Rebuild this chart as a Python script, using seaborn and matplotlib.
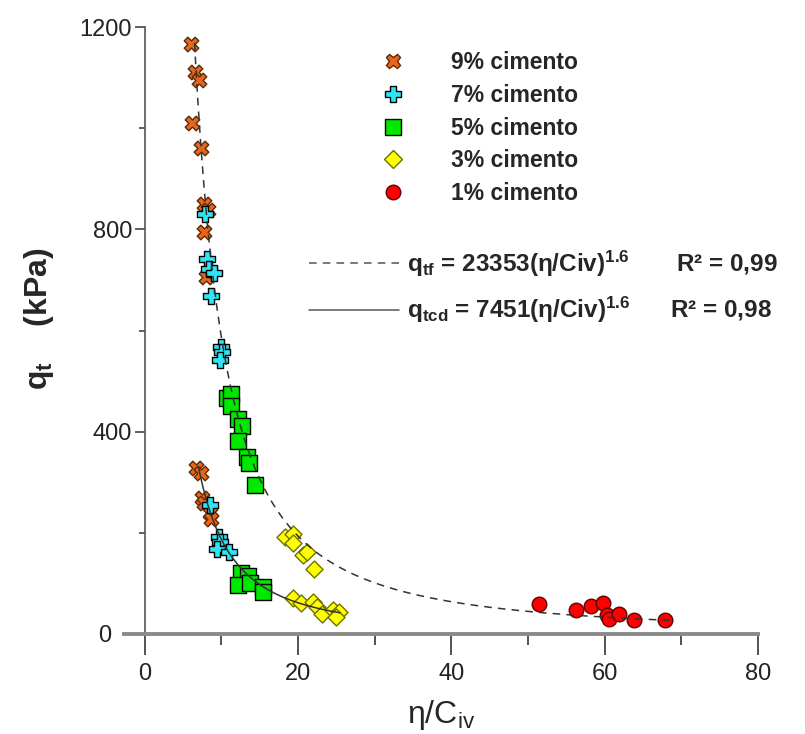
import numpy as np
import pandas as pd
import seaborn as sns
import matplotlib.pyplot as plt
from matplotlib.lines import Line2D

# eta/Civ and qt (kPa), one pair of arrays per cement content
x_9 = [6.1, 6.5, 7.1, 6.2, 7.4, 7.7, 8.2, 7.7, 8.05, 6.75, 7.3, 7.5, 7.8, 8.5, 8.6]
y_9 = [1166, 1112, 1095, 1011, 960, 851, 838, 795, 706, 328, 319, 268, 258, 239, 227]
x_7 = [7.9, 8.1, 8.4, 9.1, 8.7, 10.0, 10.1, 9.8, 8.5, 9.7, 9.8, 9.4, 11.0]
y_7 = [830, 741, 721, 713, 669, 567, 558, 542, 255, 192, 182, 169, 163]
x_5 = [10.7, 11.2, 11.2, 12.2, 12.75, 12.2, 13.4, 13.6, 14.35, 12.5, 13.5, 12.2, 13.8, 15.4, 15.4]
y_5 = [466, 474, 451, 426, 411, 382, 349, 339, 295, 120, 115, 96, 100, 93, 83]
x_3 = [18.3, 19.4, 19.4, 20.6, 21.2, 22.1, 19.3, 20.45, 21.9, 22.5, 23.1, 24.6, 25.35, 24.9]
y_3 = [192, 198, 180, 156, 163, 128, 71, 61, 64, 53, 40, 47, 44, 34]
x_1 = [51.4, 56.3, 58.2, 59.8, 60.3, 60.6, 61.85, 63.8, 67.85]
y_1 = [59, 47, 56, 62, 37, 29, 40, 28, 28]

groups = ['9% cimento', '7% cimento', '5% cimento', '3% cimento', '1% cimento']
xs = [x_9, x_7, x_5, x_3, x_1]
ys = [y_9, y_7, y_5, y_3, y_1]
colors = ['#e8661a', '#30e4f4', '#00e800', '#ffff00', '#ff0000']
edges = ['#5a2a08', 'black', 'black', '#707000', '#600000']
markers = ['X', 'P', 's', 'D', 'o']
msizes = [110, 130, 120, 75, 110]

x_ticks = [0, 20, 40, 60, 80]
y_ticks = [0, 400, 800, 1200]
y_ticklabels = ['0   ', '400', '800', '1200']  # the 0 sits left of the axis line

# power-law fits printed on the chart: q = a * (eta/Civ)^b
fit_a = [23353, 7451]
fit_b = [-1.6, -1.6]
fit_xmin = [6.5, 7.0]
fit_xmax = [69.0, 25.5]
fit_styles = [(0, (5, 4)), '-']
fit_labels = [r'$\mathbf{q_{tf}}$ = 23353(η/Civ)$^{\mathbf{1.6}}$       R² = 0,99',
              r'$\mathbf{q_{tcd}}$ = 7451(η/Civ)$^{\mathbf{1.6}}$      R² = 0,98']

df = pd.concat([pd.DataFrame({'x': x, 'y': y, 'grupo': g}) for g, x, y in zip(groups, xs, ys)],
               ignore_index=True)

sns.set_style('white')
plt.rcParams['font.family'] = ['Liberation Sans', 'DejaVu Sans']
plt.rcParams['mathtext.fontset'] = 'custom'
plt.rcParams['mathtext.rm'] = 'Liberation Sans'
plt.rcParams['mathtext.bf'] = 'Liberation Sans:bold'
plt.rcParams['mathtext.it'] = 'Liberation Sans:italic'

fig = plt.figure(figsize=(8.05, 7.34), dpi=100)
ax = fig.add_axes([124 / 805, 100 / 734, 634 / 805, 607 / 734])

handles = []
for g, c, e, m, s in zip(groups, colors, edges, markers, msizes):
    sns.scatterplot(data=df[df['grupo'] == g], x='x', y='y', ax=ax, color=c, marker=m, s=s,
                    edgecolor=e, linewidth=1.0, zorder=3, legend=False)
    handles.append(Line2D([], [], linestyle='none', marker=m, markersize=np.sqrt(s) * 1.0,
                          markerfacecolor=c, markeredgecolor=e, markeredgewidth=1.0))

fit_handles = []
for a, b, x0, x1, ls in zip(fit_a, fit_b, fit_xmin, fit_xmax, fit_styles):
    xx = np.linspace(x0, x1, 300)
    ax.plot(xx, a * xx ** b, color='#333333', linestyle=ls, linewidth=1.1, zorder=4)
    fit_handles.append(Line2D([], [], color='#555555', linestyle=ls, linewidth=1.1))

leg1 = ax.legend(handles, groups, loc='upper left', bbox_to_anchor=(0.381, 0.975), frameon=False,
                 prop={'weight': 'bold', 'size': 16.5}, handlelength=1.6, handletextpad=1.75,
                 labelspacing=0.42, borderaxespad=0)
ax.add_artist(leg1)
ax.legend(fit_handles, fit_labels, loc='upper left', bbox_to_anchor=(0.276, 0.651), frameon=False,
          prop={'weight': 'bold', 'size': 17.5}, handlelength=3.7, handletextpad=0.35,
          labelspacing=0.68, borderaxespad=0)

ax.set_xlim(-2.7, 80)
ax.set_ylim(0, 1200)
ax.spines['left'].set_position(('data', 0))
ax.spines['top'].set_visible(False)
ax.spines['right'].set_visible(False)
ax.spines['bottom'].set_color('#8a8a8a')
ax.spines['bottom'].set_linewidth(2.8)
ax.spines['left'].set_color('#555555')
ax.spines['left'].set_linewidth(1.2)

ax.set_xticks(x_ticks)
ax.set_xticks([10, 30, 50, 70], minor=True)
ax.set_yticks(y_ticks, y_ticklabels)
ax.set_yticks([200, 600, 1000], minor=True)
ax.tick_params(axis='x', which='major', direction='out', length=15, width=1.3, color='#444444',
               labelsize=17, pad=6, bottom=True)
ax.tick_params(axis='x', which='minor', direction='out', length=8, width=1.3, color='#444444', bottom=True)
ax.tick_params(axis='y', which='major', direction='out', length=7, width=1.2, color='#444444',
               labelsize=17, pad=2, left=True)
ax.tick_params(axis='y', which='minor', direction='out', length=4, width=1.2, color='#444444', left=True)
for lab in ax.get_xticklabels() + ax.get_yticklabels():
    lab.set_color('#222222')

ax.set_xlabel(r'η/C$_{\mathrm{iv}}$', fontsize=23, labelpad=9)
ax.set_ylabel(r'$\mathbf{q_t}$    (kPa)', fontsize=23, fontweight='bold')
ax.yaxis.set_label_coords(-0.107, 0.52)

fig.savefig('out.png', dpi=100)
